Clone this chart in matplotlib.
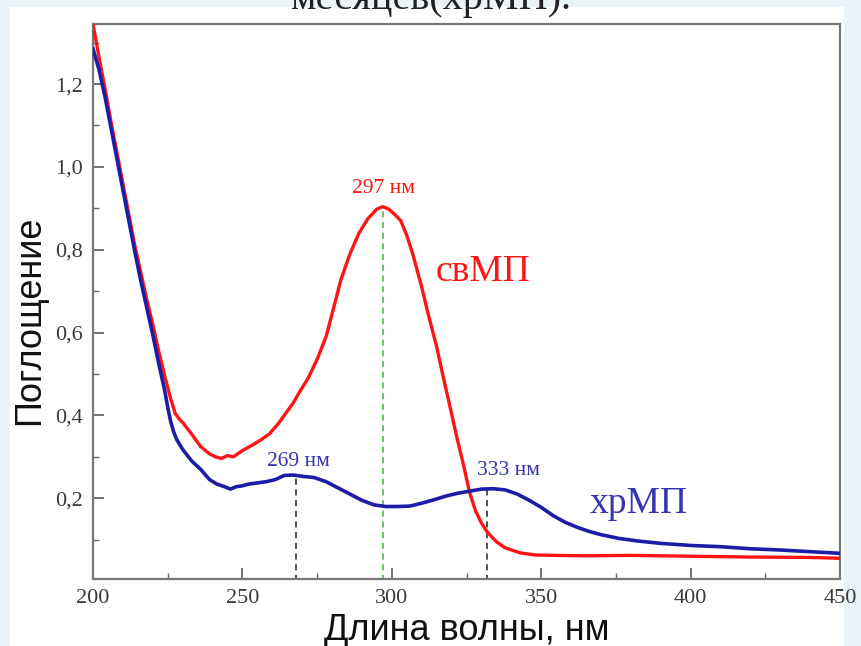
#!/usr/bin/env python
# -*- coding: utf-8 -*-

"""
Спектры поглощения свМП и хрМП (200-450 нм)
"""

import matplotlib
matplotlib.use("Agg")
import matplotlib.pyplot as plt
from matplotlib.patches import Rectangle
from matplotlib.ticker import MultipleLocator, FuncFormatter

# свМП (красная кривая)
red_x = [200, 202, 204, 206, 208, 210, 212, 214, 216, 218, 220, 222, 224, 226, 227.5,
         229, 230, 233, 236, 239, 241, 243, 245, 247, 250, 253, 256, 259, 262, 264,
         267, 269, 272, 275, 278, 280, 283, 286, 289, 292, 295, 297, 299, 301, 303,
         305, 307, 310, 312, 315, 317, 319.5, 322, 324, 326, 328, 330, 332, 335, 338,
         343, 348, 355, 365, 380, 400, 420, 440, 450]
red_y = [1.345, 1.265, 1.19, 1.11, 1.035, 0.96, 0.885, 0.81, 0.745, 0.68, 0.62, 0.555, 0.495, 0.44, 0.405,
         0.39, 0.383, 0.355, 0.325, 0.307, 0.30, 0.296, 0.303, 0.30, 0.315, 0.327, 0.34, 0.355, 0.38, 0.40,
         0.43, 0.455, 0.49, 0.535, 0.59, 0.645, 0.728, 0.79, 0.84, 0.875, 0.898, 0.904, 0.898, 0.885, 0.87,
         0.835, 0.79, 0.71, 0.65, 0.566, 0.50, 0.42, 0.34, 0.28, 0.215, 0.17, 0.14, 0.118, 0.095, 0.08,
         0.068, 0.063, 0.062, 0.061, 0.062, 0.06, 0.058, 0.057, 0.055]

# хрМП (синяя кривая)
blue_x = [200, 202, 204, 206, 208, 210, 212, 214, 216, 218, 220, 222, 224, 225, 226,
          227, 228, 230, 233, 236, 239, 241.5, 244, 246, 248, 250, 252, 255, 258, 261,
          264, 267, 270, 274, 278, 282, 286, 290, 294, 298, 302, 306, 310, 314, 318,
          322, 326, 330, 334, 338, 342, 346, 350, 354, 358, 362, 366, 370, 376, 382,
          390, 400, 410, 420, 430, 440, 450]
blue_y = [1.285, 1.235, 1.17, 1.095, 1.02, 0.945, 0.87, 0.795, 0.725, 0.66, 0.595, 0.525, 0.46, 0.42, 0.385,
          0.36, 0.342, 0.318, 0.29, 0.27, 0.245, 0.234, 0.228, 0.222, 0.228, 0.23, 0.234, 0.237, 0.24, 0.245,
          0.255, 0.256, 0.253, 0.25, 0.24, 0.225, 0.21, 0.195, 0.184, 0.18, 0.18, 0.181, 0.188, 0.196, 0.205,
          0.212, 0.217, 0.222, 0.223, 0.22, 0.21, 0.195, 0.178, 0.158, 0.142, 0.13, 0.12, 0.112, 0.103, 0.097,
          0.091, 0.086, 0.083, 0.078, 0.075, 0.071, 0.067]

# пики
peak_x = [268, 297, 332]
peak_y = [0.255, 0.904, 0.222]
peak_labels = ["269 нм", "297 нм", "333 нм"]

RED = "#ff1414"
BLUE = "#1c1ca6"
BLUE_TXT = "#3434b4"
SERIF = ["Liberation Serif", "DejaVu Serif"]
SANS = ["Liberation Sans", "DejaVu Sans"]

fig = plt.figure(figsize=(8.61, 6.46), dpi=100, facecolor="#eaf3f7")
# белая подложка
fig.patches.append(Rectangle((10 / 861, 0), 834 / 861, 639 / 646,
                             transform=fig.transFigure, facecolor="white",
                             edgecolor="none", zorder=-5))

ax = fig.add_axes([93 / 861, 1 - 579 / 646, 747 / 861, 555 / 646])
ax.set_facecolor("white")

# пунктирные линии к пикам
ax.vlines(peak_x[0], 0, peak_y[0], colors="#222222", linestyles=(0, (4, 3)), lw=1.1, zorder=2)
ax.vlines(peak_x[1], 0, peak_y[1], colors="#44b044", linestyles=(0, (4, 3)), lw=1.1, zorder=2)
ax.vlines(peak_x[2], 0, peak_y[2], colors="#222222", linestyles=(0, (4, 3)), lw=1.1, zorder=2)

ax.plot(red_x, red_y, color=RED, lw=2.4, zorder=3)
ax.plot(blue_x, blue_y, color=BLUE, lw=2.6, zorder=4)

# подписи
ax.text(297.1, 0.949, peak_labels[1], color=RED, fontsize=15.5,
        family=SERIF, ha="center", va="center")
ax.text(268.6, 0.289, peak_labels[0], color=BLUE_TXT, fontsize=15.5,
        family=SERIF, ha="center", va="center")
ax.text(339.2, 0.267, peak_labels[2], color=BLUE_TXT, fontsize=15.5,
        family=SERIF, ha="center", va="center")
ax.text(314.5, 0.747, "свМП", color=RED, fontsize=27, family=SERIF, ha="left", va="center")
ax.text(366.3, 0.186, "хрМП", color=BLUE_TXT, fontsize=27, family=SERIF, ha="left", va="center")

ax.set_xlim(200, 450)
ax.set_ylim(0.005, 1.345)
ax.xaxis.set_major_locator(MultipleLocator(50))
ax.xaxis.set_minor_locator(MultipleLocator(25))
ax.yaxis.set_major_locator(MultipleLocator(0.2))
ax.yaxis.set_minor_locator(MultipleLocator(0.1))
ax.yaxis.set_major_formatter(FuncFormatter(lambda v, p: "" if v < 0.1 else f"{v:.1f}".replace(".", ",")))

ax.tick_params(which="both", direction="in", color="#666666", top=False, right=False)
ax.tick_params(which="major", length=8, width=1.3, labelsize=16, labelcolor="#3a3a3a", pad=7)
ax.tick_params(which="minor", length=4, width=1.0)
for lab in ax.get_xticklabels() + ax.get_yticklabels():
    lab.set_family(SERIF)
for s in ax.spines.values():
    s.set_color("#777777")
    s.set_linewidth(1.6)

ax.set_xlabel("Длина волны, нм", family=SANS, fontsize=26, color="#111111", va="center")
ax.xaxis.set_label_coords(0.5, -0.092)
ax.set_ylabel("Поглощение", family=SANS, fontsize=26, color="#111111", va="center")
ax.yaxis.set_label_coords(-0.0843, 0.466)

# обрезанный заголовок сверху
fig.text(0.5, 1 - 9 / 646, "месяцев(хрМП).", family=SERIF, fontsize=29,
         color="#222222", ha="center", va="baseline")

fig.savefig("out.png", dpi=100, facecolor=fig.get_facecolor())
